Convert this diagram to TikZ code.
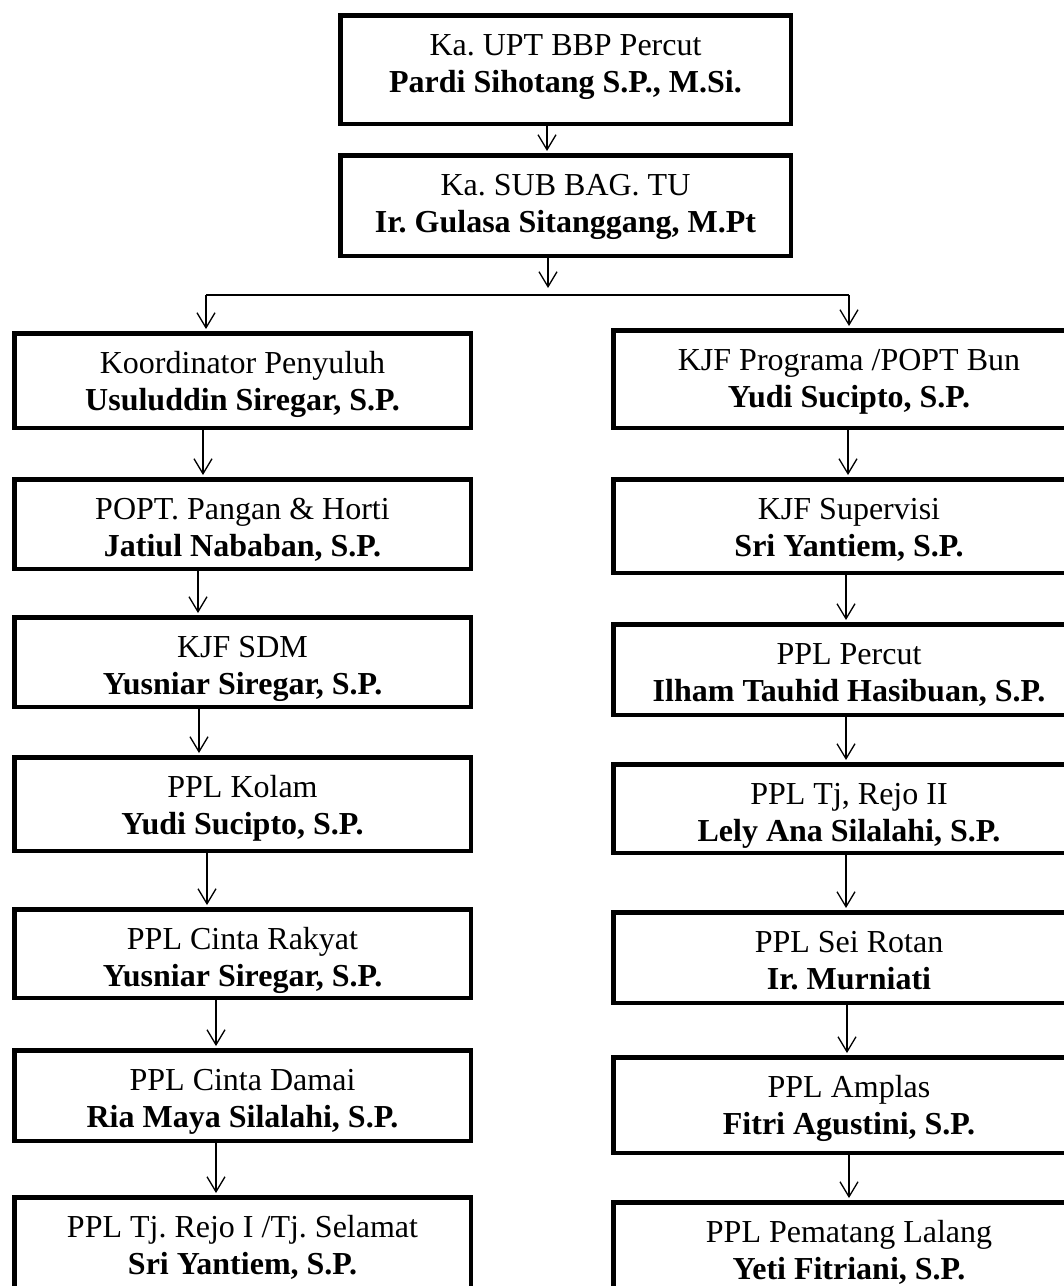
\documentclass[tikz,border=0pt]{standalone}
\usepackage{fontspec}
\setmainfont{Liberation Serif}
\usetikzlibrary{arrows.meta}
\frenchspacing
\tikzset{
  orgbox/.style={draw=black, line width=4.5pt, rectangle, inner sep=0pt, fill=white},
  role/.style={anchor=base, inner sep=0pt, font=\fontsize{32}{37}\selectfont\frenchspacing},
  person/.style={anchor=base, inner sep=0pt, font=\fontsize{32}{37}\selectfont\bfseries\frenchspacing},
  conn/.style={line width=1.3pt, shorten >=2pt, -{Straight Barb[length=15pt,width=18pt]}},
  busline/.style={line width=1.3pt},
}
% name, cx, outer width, outer top, outer bottom, role, person
\newcommand\orgnode[7]{%
  \node[orgbox, minimum width={#3-4.5}, minimum height={#5-#4-4.5}] (#1) at (#2,{(#4+#5)/2}) {};
  \node[role] (#1r) at (#2,{#4+42}) {#6};
  \node[person] (#1p) at (#2,{#4+79}) {#7};
}
\begin{document}
\begin{tikzpicture}[x=1pt,y=-1pt]
\useasboundingbox (0,0) rectangle (1064,1286);
\clip (0,0) rectangle (1064,1286);

% top
\orgnode{b1}{565.5}{455}{13}{126}{Ka. UPT BBP Percut}{Pardi Sihotang S.P., M.Si.}
\orgnode{b2}{565.5}{455}{153}{258}{Ka. SUB BAG. TU}{Ir. Gulasa Sitanggang, M.Pt}

% left column
\orgnode{l1}{242.5}{461}{331}{430}{Koordinator Penyuluh}{Usuluddin Siregar, S.P.}
\orgnode{l2}{242.5}{461}{477}{571}{POPT. Pangan \& Horti}{Jatiul Nababan, S.P.}
\orgnode{l3}{242.5}{461}{615}{709}{KJF SDM}{Yusniar Siregar, S.P.}
\orgnode{l4}{242.5}{461}{755}{853}{PPL Kolam}{Yudi Sucipto, S.P.}
\orgnode{l5}{242.5}{461}{907}{1000}{PPL Cinta Rakyat}{Yusniar Siregar, S.P.}
\orgnode{l6}{242.5}{461}{1048}{1143}{PPL Cinta Damai}{Ria Maya Silalahi, S.P.}
\orgnode{l7}{242.5}{461}{1195}{1290}{PPL Tj. Rejo I /Tj. Selamat}{Sri Yantiem, S.P.}

% right column
\orgnode{r1}{849}{476}{328}{430}{KJF Programa /POPT Bun}{Yudi Sucipto, S.P.}
\orgnode{r2}{849}{476}{477}{575}{KJF Supervisi}{Sri Yantiem, S.P.}
\orgnode{r3}{849}{476}{622}{717}{PPL Percut}{Ilham Tauhid Hasibuan, S.P.}
\orgnode{r4}{849}{476}{762}{855}{PPL Tj, Rejo II}{Lely Ana Silalahi, S.P.}
\orgnode{r5}{849}{476}{910}{1005}{PPL Sei Rotan}{Ir. Murniati}
\orgnode{r6}{849}{476}{1055}{1155}{PPL Amplas}{Fitri Agustini, S.P.}
\orgnode{r7}{849}{476}{1200}{1300}{PPL Pematang Lalang}{Yeti Fitriani, S.P.}

% bus
\coordinate (busL) at (206,295);
\coordinate (busM) at (548,295);
\coordinate (busR) at (849,295);
\draw[busline] (busL) -- (busR);

% connectors
\draw[conn] ([xshift=-18.5pt]b1.south) -- ([xshift=-18.5pt]b1.south |- b2.north);
\draw[conn, shorten >=7pt] ([xshift=-17.5pt]b2.south) -- (busM);
\draw[conn] (busL) -- (busL |- l1.north);
\draw[conn] (busR) -- (busR |- r1.north);

\draw[conn] ([xshift=-39.5pt]l1.south) -- ([xshift=-39.5pt]l1.south |- l2.north);
\draw[conn] ([xshift=-44.5pt]l2.south) -- ([xshift=-44.5pt]l2.south |- l3.north);
\draw[conn] ([xshift=-43.5pt]l3.south) -- ([xshift=-43.5pt]l3.south |- l4.north);
\draw[conn] ([xshift=-35.5pt]l4.south) -- ([xshift=-35.5pt]l4.south |- l5.north);
\draw[conn] ([xshift=-26.5pt]l5.south) -- ([xshift=-26.5pt]l5.south |- l6.north);
\draw[conn] ([xshift=-26.5pt]l6.south) -- ([xshift=-26.5pt]l6.south |- l7.north);

\draw[conn] ([xshift=-1pt]r1.south) -- ([xshift=-1pt]r1.south |- r2.north);
\draw[conn] ([xshift=-3pt]r2.south) -- ([xshift=-3pt]r2.south |- r3.north);
\draw[conn] ([xshift=-3pt]r3.south) -- ([xshift=-3pt]r3.south |- r4.north);
\draw[conn] ([xshift=-3pt]r4.south) -- ([xshift=-3pt]r4.south |- r5.north);
\draw[conn] ([xshift=-2pt]r5.south) -- ([xshift=-2pt]r5.south |- r6.north);
\draw[conn] (r6.south) -- (r6.south |- r7.north);
\end{tikzpicture}
\end{document}
